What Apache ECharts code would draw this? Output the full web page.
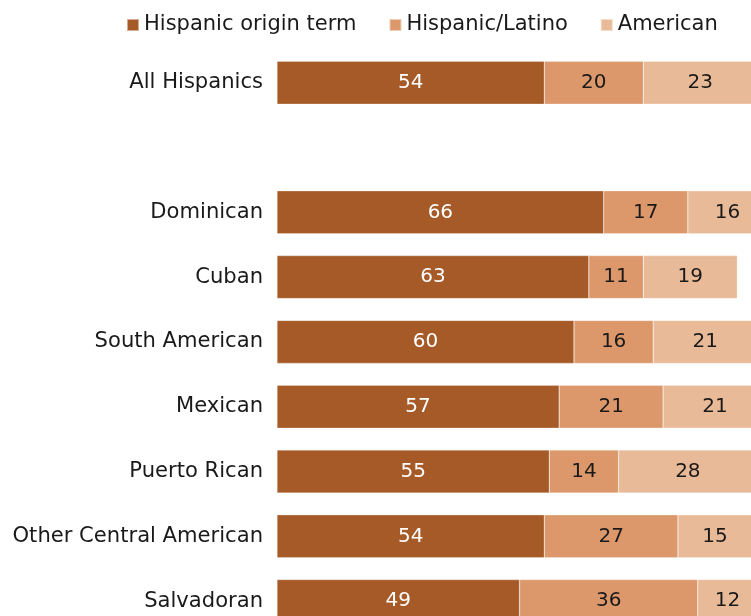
<!DOCTYPE html>
<html>
<head>
<meta charset="utf-8">
<script src="https://cdn.jsdelivr.net/npm/echarts@6/dist/echarts.min.js"></script>
<style>
  html, body { margin: 0; padding: 0; background: #fff; }
  #chart { width: 751px; height: 616px; }
</style>
</head>
<body>
<div id="chart"></div>
<script>
// Groups, top to bottom; the empty entry leaves a spacer row under the total
const categories = ['All Hispanics', '', 'Dominican', 'Cuban', 'South American', 'Mexican', 'Puerto Rican', 'Other Central American', 'Salvadoran'];
const seriesNames = ['Hispanic origin term', 'Hispanic/Latino', 'American'];
const originTerm = [54, null, 66, 63, 60, 57, 55, 54, 49];
const hispanicLatino = [20, null, 17, 11, 16, 21, 14, 27, 36];
const american = [23, null, 16, 19, 21, 21, 28, 15, 12];

const colors = ['#A55A27', '#DC986B', '#E9BA97'];
const labelColors = ['#ffffff', '#1a1a1a', '#1a1a1a'];
const FONT = 'DejaVu Sans';

const values = [originTerm, hispanicLatino, american];

const chart = echarts.init(document.getElementById('chart'), null, { renderer: 'canvas' });

// The plot runs past the right and bottom edges of the page, so the grid is
// given an explicit size and is not squeezed back inside the container.
chart.setOption({
  animation: false,
  backgroundColor: '#ffffff',
  legend: {
    top: 9,
    left: 121,
    itemWidth: 12,
    itemHeight: 12,
    itemGap: 32,
    icon: 'rect',
    textStyle: { fontFamily: FONT, fontSize: 21, color: '#1a1a1a', lineHeight: 22 },
    data: seriesNames
  },
  grid: {
    left: 277, top: 50.3, width: 495, height: 583.2,
    containLabel: false,
    outerBoundsMode: 'none'
  },
  xAxis: {
    type: 'value',
    min: 0,
    max: 100,
    show: false
  },
  yAxis: {
    type: 'category',
    data: categories,
    inverse: true,
    axisLine: { show: false },
    axisTick: { show: false },
    splitLine: { show: false },
    axisLabel: { fontFamily: FONT, fontSize: 21.1, color: '#1a1a1a', margin: 14 }
  },
  series: seriesNames.map((name, i) => ({
    name: name,
    type: 'bar',
    stack: 'total',
    barWidth: 43,
    data: values[i],
    itemStyle: { color: colors[i], borderColor: 'rgba(255,255,255,0.5)', borderWidth: 0.5 },
    label: {
      show: true,
      position: 'inside',
      fontFamily: FONT,
      fontSize: 20,
      color: labelColors[i]
    }
  }))
});
</script>
</body>
</html>
